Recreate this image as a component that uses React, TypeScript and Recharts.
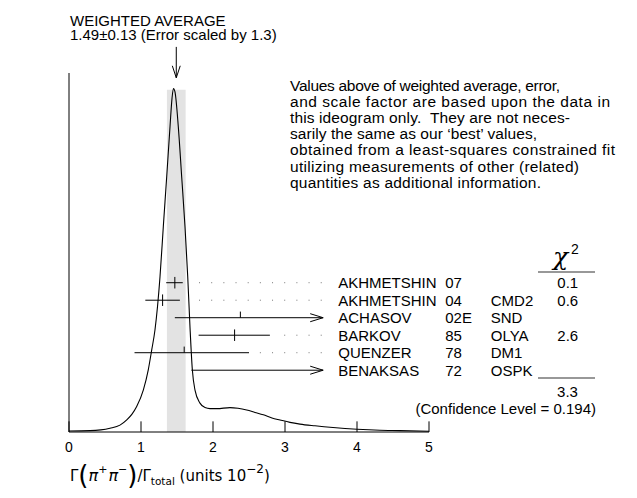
import React from 'react';
import {
  ComposedChart, Line, XAxis, YAxis, ReferenceLine, ReferenceArea, Scatter, Customized,
} from 'recharts';

// ---------- data ----------
const curveX = [0, 0.292, 0.569, 0.708, 0.806, 0.875, 0.94, 1.032, 1.101, 1.149, 1.194, 1.264, 1.31, 1.357, 1.403, 1.431, 1.451,
  1.472, 1.518, 1.565, 1.611, 1.649, 1.681, 1.713, 1.75, 1.819, 1.889, 1.958, 2.056, 2.236, 2.347, 2.468, 2.583, 2.699, 2.819,
  2.931, 3.069, 3.208, 3.417, 3.667, 4.0, 4.319, 4.597, 5.0];
const curveY = [0.003, 0.004, 0.011, 0.020, 0.036, 0.052, 0.074, 0.122, 0.181, 0.239, 0.297, 0.452, 0.598, 0.743, 0.889, 0.972, 1.0,
  0.99, 0.889, 0.743, 0.598, 0.452, 0.303, 0.181, 0.122, 0.084, 0.071, 0.068, 0.068, 0.071, 0.069, 0.064, 0.057, 0.050, 0.041,
  0.035, 0.028, 0.023, 0.018, 0.013, 0.008, 0.005, 0.004, 0.002];

const names = ['AKHMETSHIN', 'AKHMETSHIN', 'ACHASOV', 'BARKOV', 'QUENZER', 'BENAKSAS'];
const years = ['07', '04', '02E', '85', '78', '72'];
const expts = ['', 'CMD2', 'SND', 'OLYA', 'DM1', 'OSPK'];
const chi2 = ['0.1', '0.6', '', '2.6', '', ''];
const values = [1.47, 1.30, 2.38, 2.30, 1.60, 3.60];
const errLo = [0.12, 0.24, 0.91, 0.50, 0.69, 1.90];
const errHi = [0.11, 0.24, 1.77, 0.49, 0.90, 1.90];

const xTicks = [0, 1, 2, 3, 4, 5];
const avgValue = 1.49;
const avgError = 0.13;

const noteLines = [
  'Values above of weighted average, error,',
  'and scale factor are based upon the data in',
  'this ideogram only.  They are not neces-',
  'sarily the same as our \u2018best\u2019 values,',
  'obtained from a least-squares constrained fit',
  'utilizing measurements of other (related)',
  'quantities as additional information.',
];
const noteWidths = [270, 320, 280, 247, 325, 289, 251];

// ---------- layout constants ----------
const SANS = "'Liberation Sans', Arial, Helvetica, sans-serif";
const CUT = 3.53;        // display cutoff for error bars (arrow tip)
const LEADER_END = 3.51;
const LABEL_X = 3.74;
const upTickRows = new Set([2, 4]);

const curveData = curveX.map((x, i) => ({ x, y: curveY[i] }));
const rowData = names.map((n, i) => ({
  x: LABEL_X, pos: 6 - i, name: n, year: years[i], expt: expts[i], chi: chi2[i],
}));

const RowLabel = (props: any) => {
  const { cx, cy, payload } = props;
  const y = cy + 5.5;
  return (
    <g fontFamily={SANS} fontSize={15} fill="#000">
      <text x={cx} y={y}>{payload.name}</text>
      <text x={cx + 107} y={y}>{payload.year}</text>
      <text x={cx + 152.5} y={y}>{payload.expt}</text>
      {payload.chi ? <text x={cx + 229.5} y={y} textAnchor="middle">{payload.chi}</text> : null}
    </g>
  );
};

const XTick = (p: any) => (
  <text x={p.x} y={p.y} dy={11.5} textAnchor="middle" fontFamily={SANS} fontSize={14} fill="#000">
    {p.payload.value}
  </text>
);

const Overlay = () => (
  <g fill="#000">
    <text x={62} y={18} fontFamily={SANS} fontSize={15}>WEIGHTED AVERAGE</text>
    <text x={62} y={32} fontFamily={SANS} fontSize={15}>
      {`${avgValue.toFixed(2)}\u00b1${avgError.toFixed(2)} (Error scaled by 1.3)`}
    </text>
    <g fontFamily={SANS} fontSize={15.5}>
      {noteLines.map((l, i) => (
        <text key={i} x={282} y={83 + i * 16.1} textLength={noteWidths[i]} lengthAdjust="spacing"
          style={{ whiteSpace: 'pre' }}>{l}</text>
      ))}
    </g>
    <text x={545} y={257} fontFamily="'DejaVu Serif', serif" fontStyle="italic" fontSize={25}>χ</text>
    <text x={563} y={246} fontFamily={SANS} fontSize={14}>2</text>
    <line x1={530} x2={587} y1={264} y2={264} stroke="#333" strokeWidth={1.2} />
    <line x1={530} x2={587} y1={370} y2={370} stroke="#333" strokeWidth={1.2} />
    <text x={559.5} y={388.7} textAnchor="middle" fontFamily={SANS} fontSize={15}>3.3</text>
    <text x={588} y={406} textAnchor="end" fontFamily={SANS} fontSize={15}>(Confidence Level = 0.194)</text>
    <text x={62} y={473} fontFamily="'DejaVu Sans', sans-serif" fontSize={15}>
      <tspan>Γ</tspan>
      <tspan fontSize={26} y={476}>(</tspan>
      <tspan fontStyle="italic" fontSize={16} y={473}>π</tspan>
      <tspan fontSize={11} y={465}>+</tspan>
      <tspan fontStyle="italic" fontSize={16} y={473} dx={1}>π</tspan>
      <tspan fontSize={11} y={465}>−</tspan>
      <tspan fontSize={26} y={476}>)</tspan>
      <tspan y={473}>/Γ</tspan>
      <tspan fontSize={10.5} y={477}>total</tspan>
      <tspan y={473}> (units 10</tspan>
      <tspan fontSize={12} y={465}>−2</tspan>
      <tspan y={473}>)</tspan>
    </text>
  </g>
);

export default function App() {
  const segs: any[] = [];
  values.forEach((v, i) => {
    const pos = 6 - i;
    const lo = v - errLo[i];
    const hi = v + errHi[i];
    const arrow = hi > CUT;
    const right = arrow ? CUT : hi;
    segs.push({ s: [{ x: lo, y: pos }, { x: right, y: pos }], c: '#000', w: 1 });
    if (v < CUT) {
      if (upTickRows.has(i)) {
        segs.push({ s: [{ x: v, y: pos }, { x: v, y: pos + 0.35 }], c: '#000', w: 1 });
      } else {
        segs.push({ s: [{ x: v, y: pos - 0.33 }, { x: v, y: pos + 0.33 }], c: '#000', w: 1 });
      }
    }
    if (arrow) {
      segs.push({ s: [{ x: CUT, y: pos }, { x: CUT - 0.18, y: pos + 0.23 }], c: '#000', w: 1 });
      segs.push({ s: [{ x: CUT, y: pos }, { x: CUT - 0.18, y: pos - 0.23 }], c: '#000', w: 1 });
    } else {
      segs.push({ s: [{ x: LEADER_END, y: pos }, { x: hi + 0.12, y: pos }], c: '#777', w: 1, dash: '1 11.17' });
    }
  });

  return (
    <ComposedChart width={629} height={490} margin={{ top: 65, right: 208, bottom: 36, left: 61 }}>
      <XAxis
        type="number" dataKey="x" domain={[0, 5]} ticks={xTicks} interval={0}
        tickLine={false} axisLine={{ stroke: '#000', strokeWidth: 1 }} height={30}
        tickSize={6} tickMargin={2} tick={<XTick />}
      />
      <YAxis yAxisId="main" type="number" dataKey="y" domain={[0, 1.045]} hide />
      <YAxis yAxisId="rows" type="number" dataKey="pos" domain={[-2.531, 17.983]} hide />
      <ReferenceArea yAxisId="main" x1={avgValue - avgError} x2={avgValue + avgError} y1={0} y2={0.996}
        fill="#e3e3e3" fillOpacity={1} stroke="none" />
      <ReferenceLine yAxisId="main" x={0} stroke="#000" strokeWidth={1} />
      {xTicks.map((t) => (
        <ReferenceLine key={'t' + t} yAxisId="main" segment={[{ x: t, y: 0 }, { x: t, y: 0.031 }]} stroke="#000" strokeWidth={1} />
      ))}
      <ReferenceLine yAxisId="main" ifOverflow="visible" segment={[{ x: avgValue, y: 1.121 }, { x: avgValue, y: 1.031 }]} stroke="#000" strokeWidth={1} />
      <ReferenceLine yAxisId="main" ifOverflow="visible" segment={[{ x: avgValue - 0.055, y: 1.066 }, { x: avgValue, y: 1.031 }]} stroke="#000" strokeWidth={1} />
      <ReferenceLine yAxisId="main" ifOverflow="visible" segment={[{ x: avgValue + 0.055, y: 1.066 }, { x: avgValue, y: 1.031 }]} stroke="#000" strokeWidth={1} />
      {segs.map((g, k) => (
        <ReferenceLine key={'s' + k} yAxisId="rows" ifOverflow="visible" segment={g.s} stroke={g.c}
          strokeWidth={g.w} strokeDasharray={g.dash} />
      ))}
      <Line yAxisId="main" data={curveData} dataKey="y" type="monotone" dot={false} activeDot={false}
        stroke="#000" strokeWidth={1.1} isAnimationActive={false} />
      <Scatter yAxisId="rows" data={rowData} dataKey="pos" shape={RowLabel} isAnimationActive={false} />
      <Customized component={Overlay} />
    </ComposedChart>
  );
}
